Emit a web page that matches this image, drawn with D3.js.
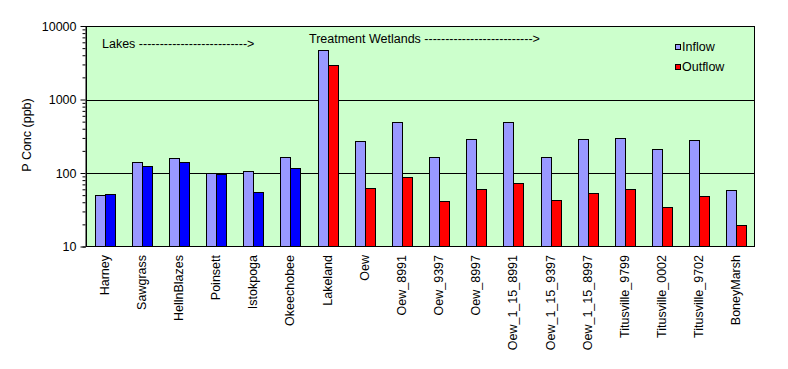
<!DOCTYPE html>
<html>
<head>
<meta charset="utf-8">
<script src="https://cdn.jsdelivr.net/npm/d3@7"></script>
<style>
  body { margin: 0; background: #fff; }
  text { font-family: "Liberation Sans", Arial, sans-serif; fill: #000; }
</style>
</head>
<body>
<svg id="chart" width="788" height="369"></svg>
<script>
const categories = ["Harney","Sawgrass","HellnBlazes","Poinsett","Istokpoga","Okeechobee","Lakeland","Oew","Oew_8991","Oew_9397","Oew_8997","Oew_1_15_8991","Oew_1_15_9397","Oew_1_15_8997","Titusville_9799","Titusville_0002","Titusville_9702","BoneyMarsh"];
const siteType = ["lake","lake","lake","lake","lake","lake","wetland","wetland","wetland","wetland","wetland","wetland","wetland","wetland","wetland","wetland","wetland","wetland"];
const inflow  = [50, 140, 160, 100, 106, 166, 4700, 272, 493, 166, 292, 493, 166, 292, 301, 213, 283, 58];
const outflow = [52, 124, 140, 97, 55, 117, 2940, 62, 88, 41, 60, 73, 43, 53, 60, 34, 48.5, 19.5];
const yTicks = [10, 100, 1000, 10000];
const seriesNames = ["Inflow", "Outflow"];

const svg = d3.select("#chart");
const pLeft = 86, pRight = 755, pTop = 26, pBottom = 246.5;

const x = d3.scaleBand().domain(categories).range([pLeft, pRight]).padding(0);
const y = d3.scaleLog().domain([10, 10000]).range([pBottom, pTop]);
const barW = 10;

// plot background
svg.append("rect").attr("x", pLeft).attr("y", pTop).attr("width", pRight - pLeft).attr("height", pBottom - pTop)
  .attr("fill", "#CCFFCC");

// gridlines
svg.append("g").selectAll("line").data(yTicks.slice(1, 3)).join("line")
  .attr("x1", pLeft).attr("x2", pRight)
  .attr("y1", d => Math.round(y(d)) + 0.5).attr("y2", d => Math.round(y(d)) + 0.5)
  .attr("stroke", "#000").attr("stroke-width", 1);

// bars
const g = svg.append("g");
categories.forEach((c, i) => {
  const cx = Math.round(x(c) + x.bandwidth() / 2);
  g.append("rect").attr("x", cx - barW + 0.5).attr("width", barW)
    .attr("y", Math.round(y(inflow[i])) + 0.5).attr("height", pBottom - Math.round(y(inflow[i])) - 0.5)
    .attr("fill", "#9999FF").attr("stroke", "#000").attr("stroke-width", 1);
  g.append("rect").attr("x", cx + 0.5).attr("width", barW)
    .attr("y", Math.round(y(outflow[i])) + 0.5).attr("height", pBottom - Math.round(y(outflow[i])) - 0.5)
    .attr("fill", siteType[i] === "lake" ? "#0000FF" : "#FF0000").attr("stroke", "#000").attr("stroke-width", 1);
});

// plot border
svg.append("rect").attr("x", pLeft + 0.5).attr("y", pTop + 0.5).attr("width", pRight - pLeft - 1).attr("height", pBottom - pTop - 0.5)
  .attr("fill", "none").attr("stroke", "#000").attr("stroke-width", 1);

// y axis
const yAxis = d3.axisLeft(y).tickValues(yTicks).tickFormat(d3.format("d")).tickSize(5).tickPadding(4);
const ya = svg.append("g").attr("transform", `translate(${pLeft - 0.5},0)`).call(yAxis);
ya.select(".domain").remove();
ya.selectAll("text").style("font-size", "12.5px").attr("fill", "#000");
ya.selectAll("line").attr("stroke", "#000");
const minor = [];
for (let dec = 10; dec < 10000; dec *= 10) for (let k = 2; k <= 9; k++) minor.push(dec * k);
const yMinor = d3.axisLeft(y).tickValues(minor).tickFormat("").tickSize(3);
const ym = svg.append("g").attr("transform", `translate(${pLeft - 0.5},0)`).call(yMinor);
ym.select(".domain").attr("stroke", "#000");
ym.selectAll("line").attr("stroke", "#000");

// y title
svg.append("text").attr("transform", "translate(31,135) rotate(-90)")
  .attr("text-anchor", "middle").style("font-size", "12.5px").text("P Conc (ppb)");

// x labels
svg.append("g").selectAll("text").data(categories).join("text")
  .attr("transform", d => `translate(${Math.round(x(d) + x.bandwidth() / 2) + 4},255) rotate(-90)`)
  .attr("text-anchor", "end").style("font-size", "12.5px").text(d => d);

// annotations
svg.append("text").attr("x", 102).attr("y", 48).style("font-size", "12.5px")
  .text("Lakes -------------------------->");
svg.append("text").attr("x", 309).attr("y", 43).style("font-size", "12.5px")
  .text("Treatment Wetlands -------------------------->");

// legend
const legColors = ["#9999FF", "#FF0000"];
const leg = svg.append("g");
seriesNames.forEach((s, i) => {
  const ly = 44 + i * 20;
  leg.append("rect").attr("x", 675.5).attr("y", ly + 0.5).attr("width", 5).attr("height", 5)
    .attr("fill", legColors[i]).attr("stroke", "#000").attr("stroke-width", 1);
  leg.append("text").attr("x", 682).attr("y", ly + 7).style("font-size", "12.5px").text(s);
});
</script>
</body>
</html>
